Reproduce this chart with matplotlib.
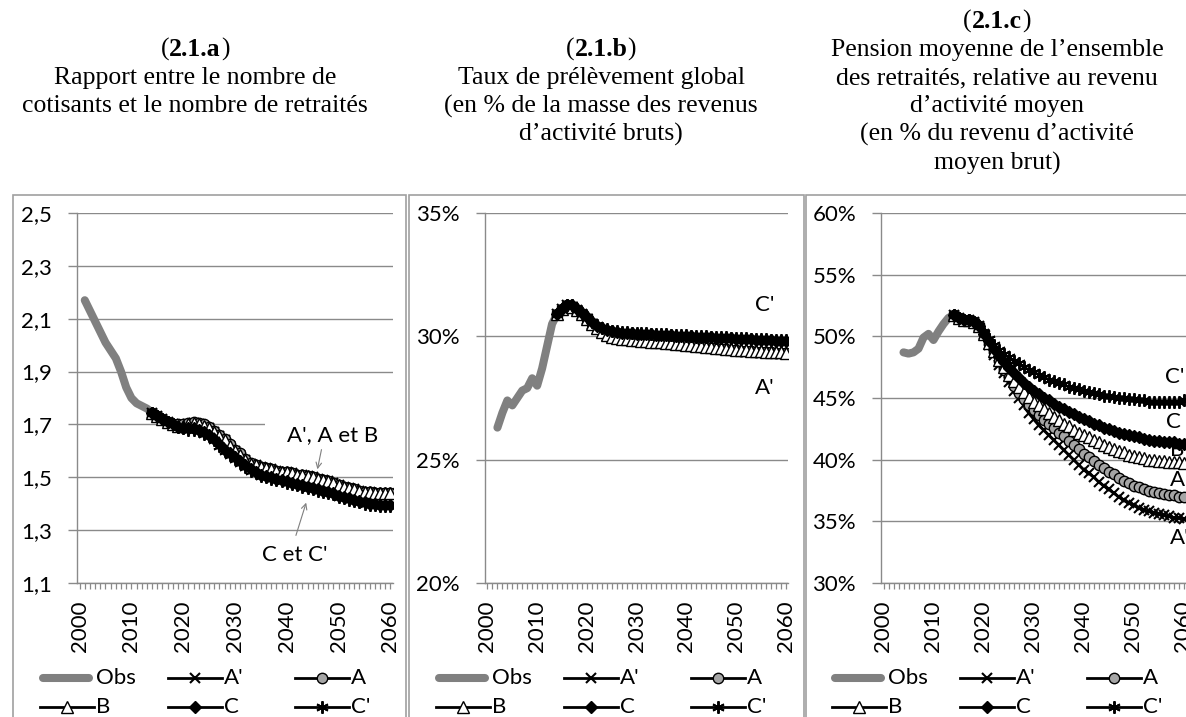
import matplotlib
matplotlib.use("Agg")
import matplotlib.pyplot as plt
from matplotlib.lines import Line2D
from matplotlib.patches import Rectangle
from matplotlib.ticker import FixedLocator, FuncFormatter

# ---------------- DATA ----------------
proj_years = list(range(2014, 2061))
series_names = ["A'", "A", "B", "C", "C'"]

# Panel a : ratio cotisants / retraités
obs_a_years = list(range(2001, 2015))
obs_a = [2.17, 2.13, 2.09, 2.05, 2.01, 1.98, 1.95, 1.90, 1.84, 1.80, 1.78, 1.77, 1.76, 1.745]
a_Ap = [1.745, 1.73, 1.72, 1.71, 1.70, 1.695, 1.695, 1.70, 1.705, 1.70,
        1.695, 1.685, 1.67, 1.655, 1.64, 1.62, 1.60, 1.585, 1.565, 1.55,
        1.545, 1.54, 1.535, 1.53, 1.525, 1.52, 1.52, 1.515, 1.51, 1.51,
        1.505, 1.50, 1.495, 1.49, 1.485, 1.48, 1.47, 1.465, 1.46, 1.455,
        1.45, 1.445, 1.445, 1.44, 1.44, 1.44, 1.44]
a_A = [1.745, 1.73, 1.72, 1.71, 1.70, 1.70, 1.70, 1.705, 1.71, 1.705,
       1.70, 1.69, 1.675, 1.66, 1.645, 1.625, 1.605, 1.59, 1.57, 1.555,
       1.545, 1.54, 1.535, 1.53, 1.525, 1.52, 1.52, 1.515, 1.51, 1.51,
       1.505, 1.50, 1.495, 1.49, 1.485, 1.48, 1.47, 1.465, 1.46, 1.455,
       1.45, 1.445, 1.445, 1.44, 1.44, 1.44, 1.44]
a_B = [1.745, 1.73, 1.72, 1.71, 1.70, 1.695, 1.695, 1.70, 1.705, 1.70,
       1.695, 1.685, 1.67, 1.655, 1.64, 1.62, 1.60, 1.585, 1.565, 1.55,
       1.545, 1.54, 1.535, 1.53, 1.525, 1.52, 1.52, 1.515, 1.51, 1.51,
       1.505, 1.50, 1.495, 1.49, 1.485, 1.48, 1.47, 1.465, 1.46, 1.455,
       1.45, 1.445, 1.445, 1.44, 1.44, 1.44, 1.44]
a_C = [1.745, 1.73, 1.72, 1.71, 1.70, 1.69, 1.685, 1.685, 1.685, 1.68,
       1.67, 1.66, 1.645, 1.625, 1.605, 1.59, 1.575, 1.56, 1.545, 1.53,
       1.52, 1.51, 1.505, 1.50, 1.495, 1.49, 1.485, 1.48, 1.475, 1.47,
       1.465, 1.46, 1.455, 1.45, 1.445, 1.44, 1.43, 1.425, 1.42, 1.415,
       1.41, 1.405, 1.40, 1.40, 1.395, 1.395, 1.395]
a_Cp = [1.745, 1.73, 1.72, 1.71, 1.70, 1.69, 1.685, 1.68, 1.68, 1.675,
        1.665, 1.655, 1.64, 1.62, 1.60, 1.585, 1.57, 1.555, 1.54, 1.525,
        1.515, 1.505, 1.50, 1.495, 1.49, 1.485, 1.48, 1.475, 1.47, 1.465,
        1.46, 1.455, 1.45, 1.445, 1.44, 1.435, 1.425, 1.42, 1.415, 1.41,
        1.405, 1.40, 1.395, 1.395, 1.39, 1.39, 1.39]

# Panel b : taux de prélèvement global (%)
obs_b_years = list(range(2002, 2015))
obs_b = [26.3, 26.9, 27.4, 27.2, 27.5, 27.8, 27.9, 28.3, 28.0, 28.7, 29.6, 30.5, 30.9]
b_Ap = [30.9, 31.1, 31.25, 31.2, 31.05, 30.9, 30.7, 30.5, 30.3, 30.15,
        30.03, 29.95, 29.9, 29.87, 29.85, 29.83, 29.81, 29.79, 29.77, 29.75,
        29.73, 29.71, 29.69, 29.67, 29.65, 29.63, 29.61, 29.59, 29.57, 29.55,
        29.53, 29.51, 29.49, 29.47, 29.45, 29.43, 29.42, 29.40, 29.39, 29.37,
        29.36, 29.35, 29.34, 29.33, 29.32, 29.31, 29.30]
b_A = [30.9, 31.1, 31.25, 31.2, 31.05, 30.9, 30.7, 30.5, 30.32, 30.17,
       30.05, 29.97, 29.92, 29.89, 29.87, 29.85, 29.83, 29.81, 29.79, 29.77,
       29.75, 29.73, 29.71, 29.69, 29.67, 29.65, 29.63, 29.61, 29.59, 29.57,
       29.55, 29.53, 29.51, 29.49, 29.47, 29.45, 29.44, 29.42, 29.41, 29.39,
       29.38, 29.37, 29.36, 29.35, 29.34, 29.33, 29.32]
b_B = [30.9, 31.1, 31.25, 31.2, 31.05, 30.9, 30.72, 30.52, 30.34, 30.19,
       30.07, 29.99, 29.94, 29.91, 29.89, 29.87, 29.85, 29.83, 29.81, 29.79,
       29.77, 29.75, 29.73, 29.71, 29.69, 29.67, 29.65, 29.63, 29.61, 29.59,
       29.57, 29.55, 29.53, 29.51, 29.49, 29.47, 29.46, 29.44, 29.43, 29.41,
       29.40, 29.39, 29.38, 29.37, 29.36, 29.35, 29.34]
b_C = [30.9, 31.1, 31.25, 31.25, 31.1, 30.95, 30.78, 30.58, 30.42, 30.32,
       30.25, 30.2, 30.17, 30.15, 30.13, 30.12, 30.11, 30.10, 30.09, 30.08,
       30.07, 30.06, 30.05, 30.04, 30.03, 30.02, 30.01, 30.0, 29.99, 29.98,
       29.97, 29.96, 29.95, 29.94, 29.93, 29.92, 29.91, 29.90, 29.89, 29.88,
       29.87, 29.86, 29.85, 29.84, 29.83, 29.83, 29.82]
b_Cp = [30.9, 31.1, 31.25, 31.25, 31.1, 30.95, 30.8, 30.6, 30.45, 30.35,
        30.28, 30.23, 30.2, 30.18, 30.16, 30.15, 30.14, 30.13, 30.12, 30.11,
        30.1, 30.09, 30.08, 30.07, 30.06, 30.05, 30.04, 30.03, 30.02, 30.01,
        30.0, 29.99, 29.98, 29.97, 29.96, 29.95, 29.94, 29.93, 29.92, 29.91,
        29.9, 29.89, 29.88, 29.87, 29.86, 29.86, 29.85]

# Panel c : pension moyenne relative (%)
obs_c_years = list(range(2004, 2015))
obs_c = [48.7, 48.6, 48.7, 49.0, 49.9, 50.2, 49.7, 50.4, 51.0, 51.5, 51.7]
c_Ap = [51.7, 51.5, 51.3, 51.3, 51.2, 50.8,
        50.2, 49.3, 48.5, 47.7, 47.0, 46.3, 45.6, 45.0,
        44.4, 43.8, 43.3, 42.8, 42.4, 42.0, 41.6,
        41.2, 40.8, 40.4, 40.0, 39.6, 39.2, 38.9,
        38.6, 38.2, 37.9, 37.6, 37.3, 37.0, 36.7,
        36.5, 36.3, 36.1, 35.9, 35.8, 35.7, 35.6,
        35.5, 35.4, 35.3, 35.3, 35.2]
c_A = [51.7, 51.5, 51.3, 51.3, 51.2, 50.8,
       50.2, 49.4, 48.7, 48.0, 47.3, 46.7, 46.0, 45.4,
       44.9, 44.4, 44.0, 43.6, 43.2, 42.9, 42.6,
       42.2, 41.9, 41.5, 41.2, 40.9, 40.5, 40.2,
       39.9, 39.6, 39.3, 39.0, 38.8, 38.5, 38.3,
       38.1, 37.9, 37.8, 37.6, 37.5, 37.4, 37.3,
       37.2, 37.1, 37.1, 37.0, 37.0]
c_B = [51.7, 51.5, 51.3, 51.3, 51.2, 50.8,
       50.2, 49.5, 48.8, 48.1, 47.5, 46.9, 46.4, 45.9,
       45.5, 45.1, 44.7, 44.4, 44.1, 43.8, 43.5,
       43.2, 42.9, 42.7, 42.4, 42.2, 42.0, 41.8,
       41.6, 41.4, 41.2, 41.0, 40.9, 40.7, 40.6,
       40.4, 40.3, 40.2, 40.1, 40.0, 40.0, 39.9,
       39.9, 39.8, 39.8, 39.8, 39.7]
c_C = [51.7, 51.5, 51.3, 51.3, 51.2, 50.8,
       50.2, 49.6, 49.0, 48.4, 47.9, 47.4, 47.0, 46.6,
       46.2, 45.9, 45.6, 45.3, 45.0, 44.8, 44.5,
       44.3, 44.1, 43.9, 43.7, 43.5, 43.3, 43.1,
       42.9, 42.8, 42.6, 42.5, 42.3, 42.2, 42.1,
       42.0, 41.9, 41.8, 41.7, 41.6, 41.5, 41.5,
       41.4, 41.4, 41.4, 41.3, 41.3]
c_Cp = [51.7, 51.5, 51.3, 51.3, 51.2, 50.8,
        50.3, 49.8, 49.3, 48.9, 48.6, 48.3, 48.0, 47.8,
        47.5, 47.3, 47.1, 46.9, 46.7, 46.5, 46.4,
        46.2, 46.1, 45.9, 45.8, 45.7, 45.6, 45.5,
        45.4, 45.3, 45.2, 45.2, 45.1, 45.0, 45.0,
        44.9, 44.9, 44.8, 44.8, 44.7, 44.7, 44.7,
        44.7, 44.7, 44.7, 44.7, 44.8]

ticks_a = [1.1, 1.3, 1.5, 1.7, 1.9, 2.1, 2.3, 2.5]
ticks_b = [20, 25, 30, 35]
ticks_c = [30, 35, 40, 45, 50, 55, 60]
year_labels = [2000, 2010, 2020, 2030, 2040, 2050, 2060]

tags = ["2.1.a", "2.1.b", "2.1.c"]
titles_a = ["Rapport entre le nombre de", "cotisants et le nombre de retraités"]
titles_b = ["Taux de prélèvement global", "(en % de la masse des revenus",
            "d’activité bruts)"]
titles_c = ["Pension moyenne de l’ensemble", "des retraités, relative au revenu",
            "d’activité moyen", "(en % du revenu d’activité", "moyen brut)"]

# ---------------- STYLE ----------------
W, H = 1186, 717
fig = plt.figure(figsize=(W / 100, H / 100), dpi=100)
GRID = '#8a8a8a'
BORDER = '#a0a0a0'
FONT = 'Lato'
FS = 16
TFONT = 'Liberation Serif'
TFS = 18.5
LSP = 28.3

def fx(x):
    return x / W

def fy(y):
    return 1 - y / H

styles = {
    "A'": dict(marker='x', ms=7.5, mew=1.5, mfc='black', mec='black'),
    "A": dict(marker='o', ms=7.5, mew=1.0, mfc='#a5a5a5', mec='black'),
    "B": dict(marker='^', ms=8, mew=1.0, mfc='white', mec='black'),
    "C": dict(marker='D', ms=6.5, mew=1.0, mfc='black', mec='black'),
    "C'": dict(marker=(6, 2, 0), ms=9, mew=1.4, mfc='black', mec='black'),
}


def make_panel(px0, px1, obs_years, obs_vals, series, ylim, yticks, fmt):
    ax = fig.add_axes([fx(px0), fy(583), fx(px1) - fx(px0), fy(213) - fy(583)])
    ax.plot(obs_years, obs_vals, color='#808080', lw=5.8,
            solid_capstyle='round', zorder=3)
    for name, vals in zip(series_names, series):
        ax.plot(proj_years, vals, color='black', lw=2.0, zorder=4, **styles[name])
    ax.set_xlim(1999.5, 2060.5)
    ax.set_ylim(*ylim)
    ax.set_yticks(yticks)
    ax.yaxis.set_major_formatter(FuncFormatter(fmt))
    ax.xaxis.set_major_locator(FixedLocator(year_labels))
    ax.xaxis.set_minor_locator(FixedLocator(list(range(2000, 2061))))
    ax.set_xticklabels([str(y) for y in year_labels], rotation=90,
                       fontsize=FS, family=FONT)
    for lab in ax.get_yticklabels():
        lab.set_family(FONT)
        lab.set_fontsize(FS)
    ax.tick_params(axis='x', which='both', length=4, width=0.9, color=GRID,
                   direction='out', pad=8.5)
    ax.tick_params(axis='y', length=6.5, width=1.0, color=GRID, pad=11.5)
    ax.grid(axis='y', color=GRID, lw=1.0, zorder=0)
    ax.set_axisbelow(True)
    for s in ('top', 'right'):
        ax.spines[s].set_visible(False)
    for s in ('left', 'bottom'):
        ax.spines[s].set_color(GRID)
        ax.spines[s].set_linewidth(1.0)
    ax.patch.set_alpha(0)
    return ax


def draw_border(x0, x1):
    fig.add_artist(Rectangle((fx(x0), fy(760)), fx(x1) - fx(x0), fy(195) - fy(760),
                             transform=fig.transFigure, fill=False,
                             ec=BORDER, lw=1.2, zorder=0))


renderer = fig.canvas.get_renderer()


def draw_titles(tag, lines, xc, y_first):
    t = fig.text(fx(xc), fy(y_first), tag, ha='center', va='center',
                 family=TFONT, fontsize=TFS, weight='bold')
    bb = t.get_window_extent(renderer)
    fig.text(bb.x0 / W, fy(y_first), "(", ha='right', va='center',
             family=TFONT, fontsize=TFS)
    fig.text(bb.x1 / W, fy(y_first), ")", ha='left', va='center',
             family=TFONT, fontsize=TFS)
    for i, line in enumerate(lines):
        fig.text(fx(xc), fy(y_first + (i + 1) * LSP), line, ha='center',
                 va='center', family=TFONT, fontsize=TFS)


def draw_legend(x0):
    cols = [x0, x0 + 128, x0 + 255]
    rows = [678, 707]
    entries = [("Obs", 0, 0), ("A'", 1, 0), ("A", 2, 0),
               ("B", 0, 1), ("C", 1, 1), ("C'", 2, 1)]
    for name, c, r in entries:
        xs, y = cols[c], rows[r]
        if name == "Obs":
            fig.add_artist(Line2D([fx(xs + 3), fx(xs + 49)], [fy(y), fy(y)],
                                  transform=fig.transFigure, color='#808080',
                                  lw=5.8, solid_capstyle='round'))
        else:
            fig.add_artist(Line2D([fx(xs), fx(xs + 54)], [fy(y), fy(y)],
                                  transform=fig.transFigure, color='black', lw=2.0))
            fig.add_artist(Line2D([fx(xs + 27)], [fy(y)], transform=fig.transFigure,
                                  color='black', lw=0, **styles[name]))
        fig.text(fx(xs + 56), fy(y), name, ha='left', va='center',
                 family=FONT, fontsize=FS)


comma = lambda v, p: f"{v:.1f}".replace('.', ',')
pct = lambda v, p: f"{int(round(v))}%"

# borders
draw_border(13, 405.5)
draw_border(409, 803.5)
draw_border(806, 1300)

axa = make_panel(77, 393, obs_a_years, obs_a, [a_Ap, a_A, a_B, a_C, a_Cp],
                 (1.1, 2.5), ticks_a, comma)
axb = make_panel(485, 788, obs_b_years, obs_b, [b_Ap, b_A, b_B, b_C, b_Cp],
                 (20, 35), ticks_b, pct)
axc = make_panel(881, 1186, obs_c_years, obs_c, [c_Ap, c_A, c_B, c_C, c_Cp],
                 (30, 60), ticks_c, pct)

# titles
draw_titles(tags[0], titles_a, 195, 21.5 + LSP)
draw_titles(tags[1], titles_b, 601, 21.5 + LSP)
draw_titles(tags[2], titles_c, 997, 21.5)

# legends
draw_legend(40)
draw_legend(436)
draw_legend(832)

# annotations panel a
axa.add_patch(Rectangle((2035.8, 1.635), 30, 0.09, fc='white', ec='none', zorder=1))
axa.text(2040.0, 1.66, "A', A et B", ha='left', va='center', family=FONT,
         fontsize=FS, zorder=6)
axa.annotate('', xy=(2045.8, 1.52), xytext=(2046.8, 1.615),
             arrowprops=dict(arrowstyle='->', color='#7f7f7f', lw=0.8), zorder=6)
axa.text(2035.2, 1.206, "C et C'", ha='left', va='center', family=FONT,
         fontsize=FS, zorder=6)
axa.annotate('', xy=(2043.9, 1.414), xytext=(2041.6, 1.27),
             arrowprops=dict(arrowstyle='->', color='#7f7f7f', lw=0.8), zorder=6)

# annotations panel b
axb.text(2053.8, 31.27, "C'", ha='left', va='center', family=FONT, fontsize=FS)
axb.text(2053.8, 27.9, "A'", ha='left', va='center', family=FONT, fontsize=FS)

# annotations panel c
for lab, xv, yv, z in [("C'", 2056.3, 46.7, 6), ("C", 2056.5, 43.06, 6),
                       ("B", 2057.3, 40.8, 2), ("A", 2057.3, 38.35, 6),
                       ("A'", 2057.3, 33.65, 6)]:
    axc.text(xv, yv, lab, ha='left', va='center', family=FONT, fontsize=FS,
             zorder=z, clip_on=False)

fig.savefig('out.png', dpi=100)
